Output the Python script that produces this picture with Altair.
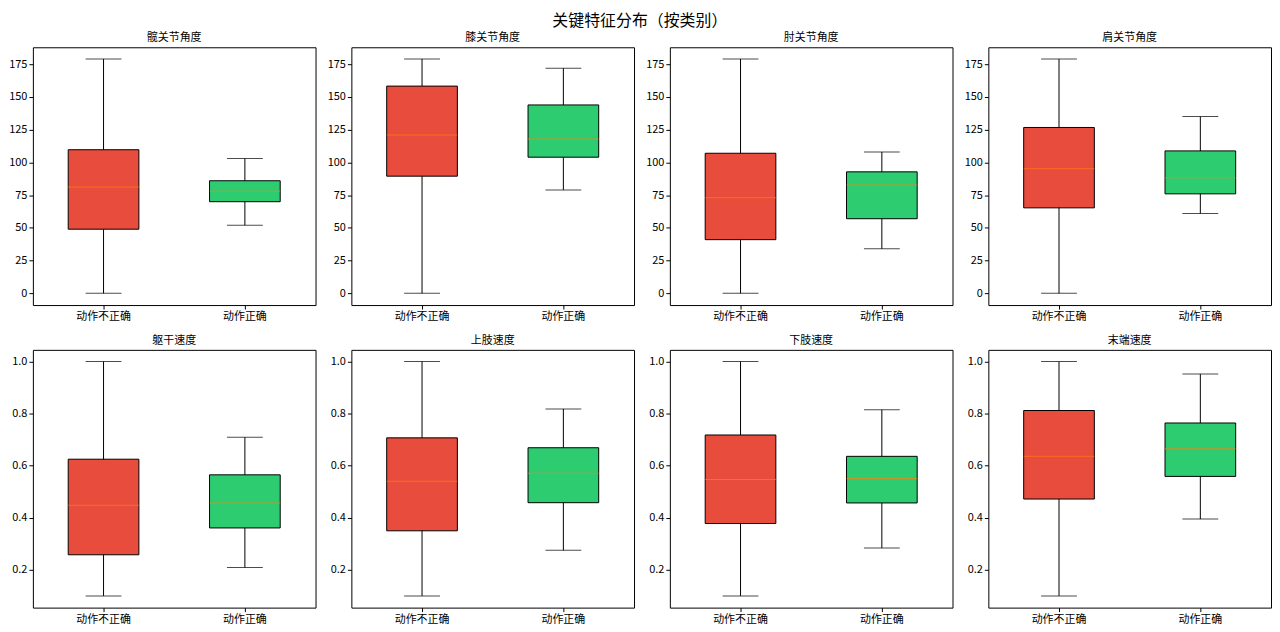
import altair as alt
import pandas as pd

features = ['髋关节角度', '膝关节角度', '肘关节角度', '肩关节角度',
            '躯干速度', '上肢速度', '下肢速度', '末端速度']
classes = ['动作不正确', '动作正确']

# per feature: [incorrect, correct]
w_low = [[0, 52], [0, 79], [0, 34], [0, 61],
         [0.1, 0.209], [0.1, 0.275], [0.1, 0.284], [0.1, 0.395]]
q1 = [[49, 70], [89.5, 104], [41, 57], [65.3, 76],
      [0.258, 0.361], [0.350, 0.458], [0.378, 0.457], [0.472, 0.559]]
median = [[81.2, 77.9], [120.9, 117.9], [73.1, 82.7], [95.1, 88.3],
          [0.448, 0.457], [0.540, 0.571], [0.547, 0.551], [0.636, 0.665]]
q3 = [[109.7, 86], [158.3, 143.9], [107, 92.8], [126.7, 108.8],
      [0.625, 0.565], [0.707, 0.669], [0.718, 0.636], [0.812, 0.764]]
w_high = [[179, 103], [179, 172], [179, 108], [179, 135],
          [1.0, 0.709], [1.0, 0.818], [1.0, 0.815], [1.0, 0.952]]

colors = ['#e74c3c', '#2ecc71']
FONT = 'Noto Sans CJK SC'
W, H = 284, 259

rows = []
for i, f in enumerate(features):
    for j, c in enumerate(classes):
        rows.append({'feature': f, 'cls': c, 'lo': w_low[i][j], 'q1': q1[i][j],
                     'med': median[i][j], 'q3': q3[i][j], 'hi': w_high[i][j]})
df = pd.DataFrame(rows)


def panel(i):
    d = df[df['feature'] == features[i]]
    lo, hi = d['lo'].min(), d['hi'].max()
    pad = (hi - lo) * 0.05
    if i < 4:
        ticks = [0, 25, 50, 75, 100, 125, 150, 175]
        fmt = 'd'
    else:
        ticks = [0.2, 0.4, 0.6, 0.8, 1.0]
        fmt = '.1f'
    x = alt.X('cls:N', title=None, sort=classes,
              scale=alt.Scale(paddingInner=0.5, paddingOuter=0.25),
              axis=alt.Axis(labelAngle=0))
    yscale = alt.Scale(domain=[lo - pad, hi + pad], nice=False, zero=False)
    yaxis = alt.Axis(values=ticks, format=fmt, grid=False, labelOverlap=False,
                     minExtent=24, maxExtent=24)

    def y(field):
        return alt.Y(field, title=None, scale=yscale, axis=yaxis)

    base = alt.Chart(d)
    whisk = base.mark_rule(color='black', strokeWidth=1).encode(x=x, y=y('lo:Q'), y2='hi:Q')
    cap_lo = base.mark_tick(color='black', size=36, thickness=1).encode(x=x, y=y('lo:Q'))
    cap_hi = base.mark_tick(color='black', size=36, thickness=1).encode(x=x, y=y('hi:Q'))
    box = base.mark_bar(stroke='black', strokeWidth=1, opacity=1).encode(
        x=x, y=y('q1:Q'), y2='q3:Q',
        color=alt.Color('cls:N', scale=alt.Scale(domain=classes, range=colors), legend=None))
    med = base.mark_tick(color='#ff7f0e', size=71, thickness=1).encode(x=x, y=y('med:Q'))
    return alt.layer(whisk, cap_lo, cap_hi, box, med).properties(
        width=W, height=H,
        title=alt.TitleParams(features[i], fontSize=11, font=FONT, fontWeight='normal',
                              offset=4, color='black'))


top = alt.hconcat(*[panel(i) for i in range(4)], spacing=10)
bottom = alt.hconcat(*[panel(i) for i in range(4, 8)], spacing=10)

chart = alt.vconcat(top, bottom, spacing=11).properties(
    padding={'left': 0, 'top': 3, 'right': 0, 'bottom': 0},
    title=alt.TitleParams('关键特征分布（按类别）', fontSize=16, font=FONT,
                          fontWeight='normal', anchor='middle', color='black', offset=3)
).configure_view(
    stroke='black', strokeWidth=1
).configure_axis(
    labelFont=FONT, labelFontSize=11, labelColor='black', domain=False,
    tickColor='black', tickSize=4, labelPadding=2
)

chart.save("out.html", embed_options={"renderer": "svg", "actions": False})
